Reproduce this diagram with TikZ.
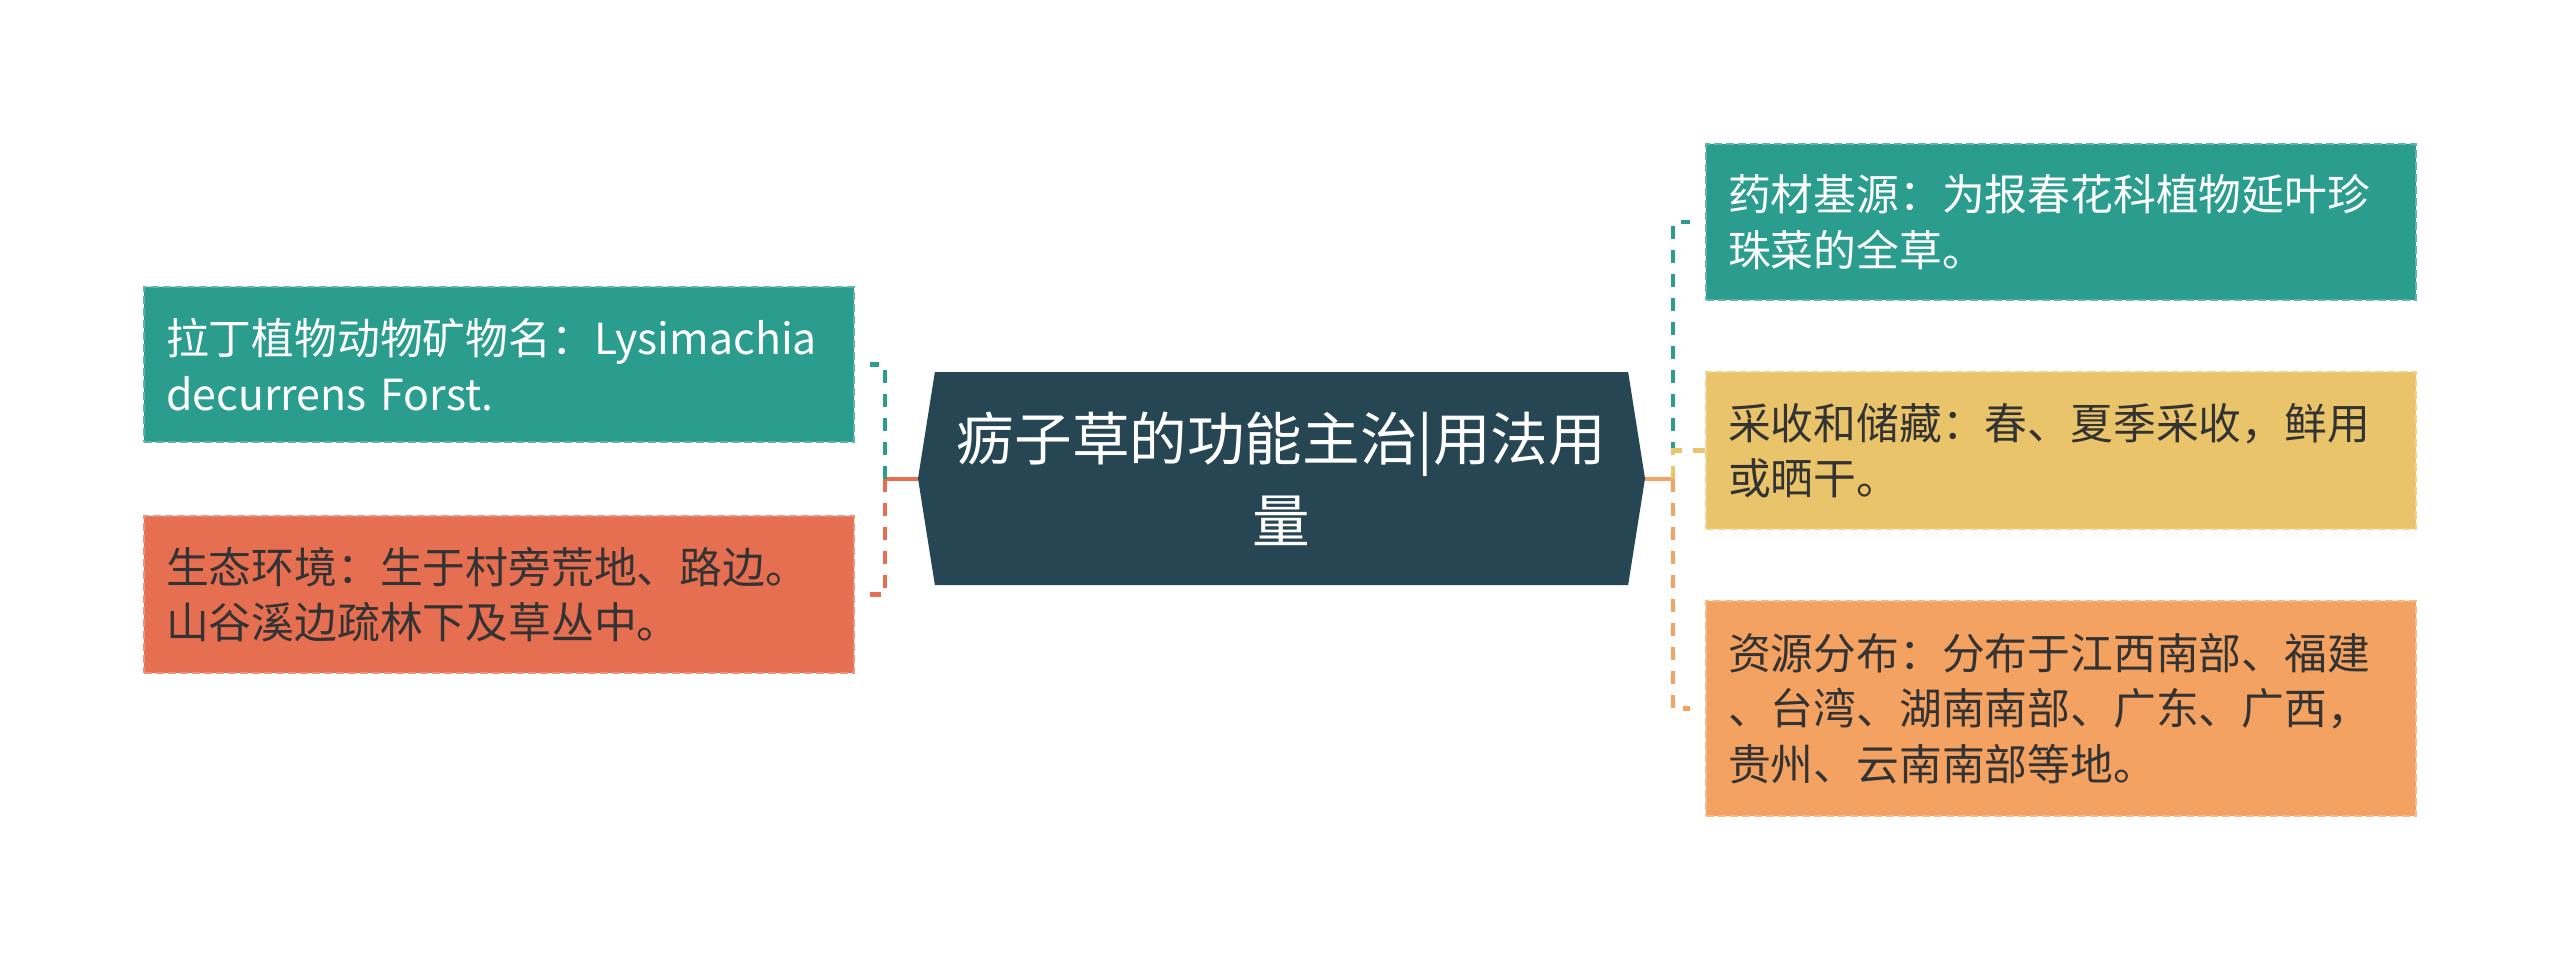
\documentclass[tikz,border=0pt]{standalone}
\usepackage{fontspec}
\newfontfamily\cjk{Noto Sans CJK SC}
\usetikzlibrary{shapes.symbols}
\definecolor{cteal}{HTML}{2A9D8F}
\definecolor{cred}{HTML}{E76F51}
\definecolor{cyel}{HTML}{E9C46A}
\definecolor{corg}{HTML}{F4A261}
\definecolor{cdark}{HTML}{264653}
\definecolor{ctxt}{HTML}{333333}
\tikzset{
  topic/.style={signal, signal to=east and west, signal pointer angle=162, fill=cdark, text=white, minimum width=363.5pt, minimum height=106.5pt, inner sep=0pt, align=center, font=\cjk\fontsize{28.8}{41}\selectfont},
  leaf/.style={rectangle, dash pattern=on 4pt off 2pt, line width=1pt, inner xsep=11pt, inner ysep=0pt, text width=333pt, align=left, font=\cjk\fontsize{21.4}{27.75}\selectfont},
  stub/.style={line width=2pt},
  link/.style={line width=2.2pt, dash pattern=on 6.5pt off 5.5pt}
}

\begin{document}
\begin{tikzpicture}[x=0.5pt, y=-0.5pt]
    \useasboundingbox (0,0) rectangle (2560,960);

    % Central topic
    \node[topic] (topic) at (1281.5, 478.5) {疬子草的功能主治|用法用\\量};

    % Left branches
    \node[leaf, fill=cteal, draw=cteal!75!white, text=white, minimum height=77.5pt] (l1) at (499, 364.5) {拉丁植物动物矿物名：Lysimachia\\decurrens Forst.};
    \node[leaf, fill=cred, draw=cred!75!white, text=ctxt, minimum height=78.5pt] (l2) at (499, 594.5) {生态环境：生于村旁荒地、路边。\\山谷溪边疏林下及草丛中。};

    % Right branches
    \node[leaf, fill=cteal, draw=cteal!75!white, text=white, minimum height=78pt] (r1) at (2061, 222) {药材基源：为报春花科植物延叶珍\\珠菜的全草。};
    \node[leaf, fill=cyel, draw=cyel!75!white, text=ctxt, minimum height=78.5pt] (r2) at (2061, 450.5) {采收和储藏：春、夏季采收，鲜用\\或晒干。};
    \node[leaf, fill=corg, draw=corg!75!white, text=ctxt, minimum height=107.5pt] (r3) at (2061, 708.5) {资源分布：分布于江西南部、福建\\、台湾、湖南南部、广东、广西，\\贵州、云南南部等地。};

    % Junctions
    \coordinate (lj) at (885, 478.5);
    \coordinate (rj) at (1673, 478.5);

    % Left connectors
    \draw[stub, cred] (topic.west) -- (lj);
    \draw[link, cteal] (lj) |- ([xshift=7.5pt]l1.east);
    \draw[link, cred] (lj) |- ([xshift=7.5pt]l2.east);

    % Right connectors
    \draw[stub, corg] (topic.east) -- (rj);
    \draw[link, cteal] (rj) |- ([xshift=-7.5pt]r1.west);
    \draw[link, cyel] (rj) |- (r2.west);
    \draw[link, corg] (rj) |- ([xshift=-7.5pt]r3.west);
\end{tikzpicture}
\end{document}
